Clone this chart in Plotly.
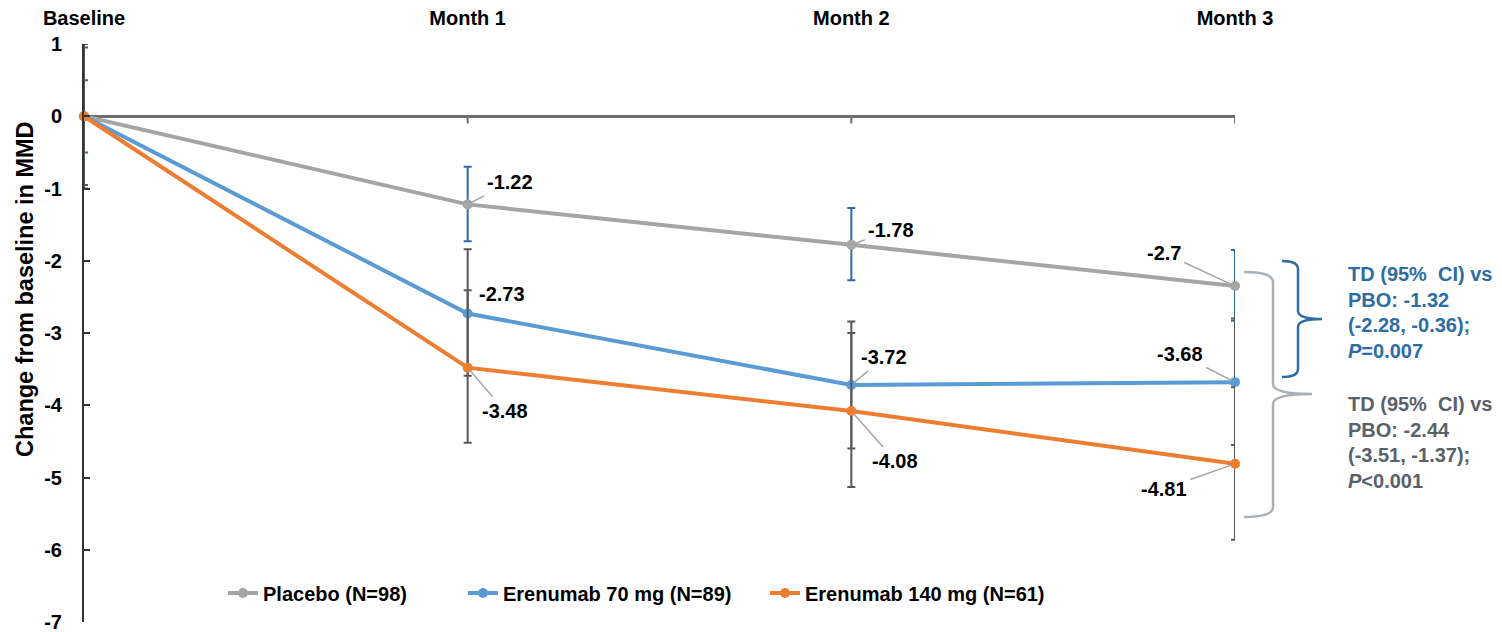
import plotly.graph_objects as go

# ---------------- data ----------------
timepoints = ["Baseline", "Month 1", "Month 2", "Month 3"]
x_pos = [0, 1, 2, 3]

y_ticks = [1, 0, -1, -2, -3, -4, -5, -6, -7]
y_tick_text = ["1", "0", "-1", "-2", "-3", "-4", "-5", "-6", "-7"]
y_title = "Change from baseline in MMD"

placebo_mean = [0, -1.22, -1.78, -2.35]
placebo_hi = [0.5, -0.70, -1.27, -1.85]
placebo_lo = [-0.5, -1.73, -2.27, -2.83]
placebo_labels = ["", "-1.22", "-1.78", "-2.7"]

e70_mean = [0, -2.73, -3.72, -3.68]
e70_hi = [0.95, -1.84, -2.84, -2.80]
e70_lo = [-0.95, -3.59, -4.60, -4.55]
e70_labels = ["", "-2.73", "-3.72", "-3.68"]

e140_mean = [0, -3.48, -4.08, -4.81]
e140_hi = [1.0, -2.41, -3.00, -3.75]
e140_lo = [-1.0, -4.52, -5.13, -5.86]
e140_labels = ["", "-3.48", "-4.08", "-4.81"]

series_names = ["Placebo (N=98)", "Erenumab 70 mg (N=89)", "Erenumab 140 mg (N=61)"]

td_70_lines = ["TD (95%  CI) vs", "PBO: -1.32", "(-2.28, -0.36);", "<i>P</i>=0.007"]
td_140_lines = ["TD (95%  CI) vs", "PBO: -2.44", "(-3.51, -1.37);", "<i>P</i><0.001"]

# ---------------- style ----------------
FONT = "Arial, 'Liberation Sans', Helvetica, sans-serif"
C_PBO = "#a5a5a5"
C_70 = "#5b9bd5"
C_140 = "#ed7d31"
C_ERR_PBO = "#2e6da4"
C_ERR = "#595959"
C_LEADER = "#a6a6a6"
C_TD70 = "#2e6da4"
C_TD140 = "#59616b"
C_BR140 = "#aab0b8"

# page has an 8px body margin; screen coordinates below
OFF = 8
W, H = 1502 - OFF, 632 - OFF
L, R, T, B = 84, 1235, 44, 622   # plot area in screen px


def px(xs):
    return (xs - L) / (R - L)


def py(ys):
    return (B - ys) / (B - T)


fig = go.Figure()

series = [
    (series_names[0], placebo_mean, placebo_hi, placebo_lo, C_PBO, C_ERR_PBO, "legend"),
    (series_names[1], e70_mean, e70_hi, e70_lo, C_70, C_ERR, "legend2"),
    (series_names[2], e140_mean, e140_hi, e140_lo, C_140, C_ERR, "legend3"),
]

for name, mean, hi, lo, col, ecol, lg in series:
    fig.add_trace(go.Scatter(
        x=x_pos, y=mean, name=name, mode="lines+markers",
        line=dict(color=col, width=4),
        marker=dict(color=col, size=10),
        error_y=dict(type="data", symmetric=False,
                     array=[h - m for h, m in zip(hi, mean)],
                     arrayminus=[m - l for l, m in zip(lo, mean)],
                     color=ecol, thickness=2, width=4),
        cliponaxis=False, legend=lg,
    ))

# data labels (offsets in px: text centre relative to point)
label_offsets = {
    "pbo": [None, (42, -22, True), (40, -15, True), (-71, -33, True)],
    "e70": [None, (34, -19, False), (33, -28, True), (-55, -28, True)],
    "e140": [None, (37, 43, True), (44, 50, True), (-71, 25, True)],
}
annotations = []
for key, mean, labels in [("pbo", placebo_mean, placebo_labels),
                          ("e70", e70_mean, e70_labels),
                          ("e140", e140_mean, e140_labels)]:
    for i, (xv, yv, txt) in enumerate(zip(x_pos, mean, labels)):
        off = label_offsets[key][i]
        if not txt or off is None:
            continue
        dx, dy, arrow = off
        common = dict(x=xv, y=yv, xref="x", yref="y", text="<b>" + txt + "</b>",
                      font=dict(family=FONT, size=20, color="black"))
        if arrow:
            annotations.append(dict(**common, showarrow=True, ax=dx, ay=dy,
                                    axref="pixel", ayref="pixel",
                                    arrowhead=0, arrowwidth=1.5,
                                    arrowcolor=C_LEADER, standoff=4,
                                    startstandoff=2))
        else:
            annotations.append(dict(**common, showarrow=False,
                                    xshift=dx, yshift=-dy))

# TD text blocks
for lines, col, y0 in [(td_70_lines, C_TD70, 274), (td_140_lines, C_TD140, 404)]:
    for j, ln in enumerate(lines):
        annotations.append(dict(
            x=px(1346), y=py(y0 + j * 25.7), xref="paper", yref="paper",
            text="<b>" + ln + "</b>", showarrow=False, xanchor="left",
            yanchor="middle", font=dict(family=FONT, size=20, color=col)))

# y-axis title (placed above the plot's centre, as in the original)
annotations.append(dict(
    x=px(25), y=py(289), xref="paper", yref="paper", text="<b>" + y_title + "</b>",
    textangle=-90, showarrow=False, xanchor="center", yanchor="middle",
    font=dict(family=FONT, size=23.5, color="black")))


def bracket(x_end, x_spine, x_tip, y_top, y_mid, y_bot, r):
    pts = lambda a, b: f"{px(a):.5f},{py(b):.5f}"
    return (f"M {pts(x_end, y_top)} Q {pts(x_spine, y_top)} {pts(x_spine, y_top + r)} "
            f"L {pts(x_spine, y_mid - r)} Q {pts(x_spine, y_mid)} {pts(x_tip, y_mid)} "
            f"Q {pts(x_spine, y_mid)} {pts(x_spine, y_mid + r)} "
            f"L {pts(x_spine, y_bot - r)} Q {pts(x_spine, y_bot)} {pts(x_end, y_bot)}")


shapes = [
    dict(type="path", xref="paper", yref="paper",
         path=bracket(1244, 1273, 1312, 272, 394, 517, 10),
         line=dict(color=C_BR140, width=2.5)),
    dict(type="path", xref="paper", yref="paper",
         path=bracket(1282, 1298, 1322, 261, 319, 377, 8),
         line=dict(color=C_ERR_PBO, width=2.5)),
]
# small tick marks on the zero line at each month
for xv in x_pos[1:]:
    shapes.append(dict(type="line", xref="x", yref="y", x0=xv, x1=xv,
                       y0=0, y1=-0.1, line=dict(color="#6e6e6e", width=2),
                       layer="below"))

leg_common = dict(orientation="h", xanchor="left", yanchor="middle",
                  bgcolor="rgba(0,0,0,0)", itemwidth=30,
                  font=dict(family=FONT, size=20, color="black", weight="bold"))

fig.update_layout(
    width=W, height=H,
    margin=dict(l=L - OFF, r=W - (R - OFF), t=T - OFF, b=H - (B - OFF)),
    paper_bgcolor="white", plot_bgcolor="white",
    font=dict(family=FONT, size=20, color="black"),
    showlegend=True,
    legend=dict(x=px(223), y=py(593), **leg_common),
    legend2=dict(x=px(463), y=py(593), **leg_common),
    legend3=dict(x=px(765), y=py(593), **leg_common),
    annotations=annotations,
    shapes=shapes,
)

fig.update_xaxes(
    range=[0, 3], tickvals=x_pos, ticktext=["<b>" + t + "</b>" for t in timepoints],
    side="top", showline=False, showgrid=False, zeroline=False, ticks="",
    tickfont=dict(family=FONT, size=20, color="black"), ticklabelstandoff=14,
    automargin=False,
)
fig.update_yaxes(
    range=[-7, 1], tickvals=y_ticks, ticktext=y_tick_text, showgrid=False,
    showline=True, linecolor="#333333", linewidth=2,
    ticks="inside", ticklen=6, tickwidth=2, tickcolor="#333333",
    zeroline=True, zerolinecolor="#6e6e6e", zerolinewidth=3,
    tickfont=dict(family=FONT, size=20, color="black", weight="bold"),
    ticklabelstandoff=16, automargin=False, ticklabeloverflow="allow",
)

fig.write_html("out.html")
